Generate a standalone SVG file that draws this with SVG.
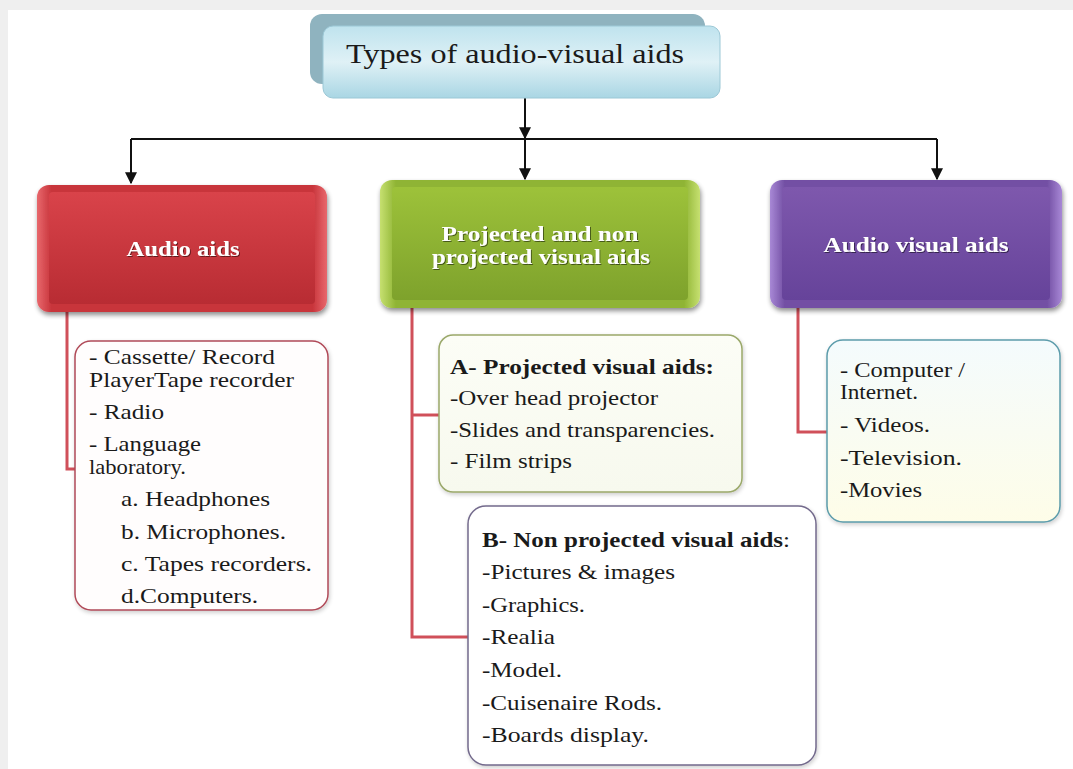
<svg xmlns="http://www.w3.org/2000/svg" width="1073" height="769" viewBox="0 0 1073 769">
<style>
.lst{font-family:"Liberation Serif","Times New Roman",serif;font-size:21px;fill:#1a1a1a}
.bld{font-weight:bold}
.lbl{font-family:"Liberation Serif","Times New Roman",serif;font-size:21px;font-weight:bold;fill:#ffffff;text-anchor:middle}
.ttl{font-family:"Liberation Serif","Times New Roman",serif;font-size:27px;fill:#1a1a1a}
.blk{stroke:#111;stroke-width:2;fill:none}
.red{stroke:#d0505a;stroke-width:3;fill:none}
</style>
<defs>
<filter id="sh" x="-10%" y="-10%" width="120%" height="130%">
<feGaussianBlur in="SourceAlpha" stdDeviation="2.5"/>
<feOffset dx="1" dy="3" result="b"/>
<feComponentTransfer><feFuncA type="linear" slope="0.45"/></feComponentTransfer>
<feMerge><feMergeNode/><feMergeNode in="SourceGraphic"/></feMerge>
</filter>
<filter id="sh2" x="-10%" y="-10%" width="120%" height="120%">
<feGaussianBlur in="SourceAlpha" stdDeviation="2"/>
<feOffset dx="1" dy="2" result="b"/>
<feComponentTransfer><feFuncA type="linear" slope="0.2"/></feComponentTransfer>
<feMerge><feMergeNode/><feMergeNode in="SourceGraphic"/></feMerge>
</filter>
<filter id="ts"><feDropShadow dx="1" dy="1" stdDeviation="0.6" flood-color="#000" flood-opacity="0.5"/></filter>
<linearGradient id="gT" x1="0" y1="0" x2="0" y2="1"><stop offset="0" stop-color="#bfe3ee"/><stop offset="0.5" stop-color="#dff1f6"/><stop offset="1" stop-color="#a9d6e4"/></linearGradient>
<linearGradient id="gR" x1="0" y1="0" x2="0" y2="1"><stop offset="0" stop-color="#d9434a"/><stop offset="1" stop-color="#b82c33"/></linearGradient>
<linearGradient id="gRe" x1="0" y1="0" x2="1" y2="0"><stop offset="0" stop-color="#e8686d"/><stop offset="0.05" stop-color="#c8343b"/><stop offset="0.95" stop-color="#c8343b"/><stop offset="1" stop-color="#e8686d"/></linearGradient>
<linearGradient id="gG" x1="0" y1="0" x2="0" y2="1"><stop offset="0" stop-color="#9dc23a"/><stop offset="1" stop-color="#7ea22c"/></linearGradient>
<linearGradient id="gGe" x1="0" y1="0" x2="1" y2="0"><stop offset="0" stop-color="#c6e070"/><stop offset="0.05" stop-color="#8fb434"/><stop offset="0.95" stop-color="#8fb434"/><stop offset="1" stop-color="#c6e070"/></linearGradient>
<linearGradient id="gP" x1="0" y1="0" x2="0" y2="1"><stop offset="0" stop-color="#7e58ad"/><stop offset="1" stop-color="#66439a"/></linearGradient>
<linearGradient id="gPe" x1="0" y1="0" x2="1" y2="0"><stop offset="0" stop-color="#a888d6"/><stop offset="0.05" stop-color="#7350a4"/><stop offset="0.95" stop-color="#7350a4"/><stop offset="1" stop-color="#a888d6"/></linearGradient>
<linearGradient id="gC" x1="0" y1="0" x2="0" y2="1"><stop offset="0" stop-color="#f4fbfd"/><stop offset="1" stop-color="#fefde8"/></linearGradient>
<linearGradient id="gA" x1="0" y1="0" x2="0" y2="1"><stop offset="0" stop-color="#fcfdf6"/><stop offset="1" stop-color="#f7f9ee"/></linearGradient>
<marker id="ah" viewBox="0 0 10 10" refX="9" refY="5" markerWidth="6" markerHeight="6" markerUnits="strokeWidth" orient="auto"><path d="M0,0 L10,5 L0,10 z" fill="#111"/></marker>
</defs>
<rect x="0" y="0" width="1073" height="769" fill="#efefef"/>
<rect x="8" y="10" width="1065" height="759" fill="#ffffff"/>

<g id="connectors">
<line class="blk" x1="525" y1="98" x2="525" y2="138" marker-end="url(#ah)"/>
<path class="blk" d="M131,139 H937"/>
<line class="blk" x1="525" y1="139" x2="525" y2="179" marker-end="url(#ah)"/>
<line class="blk" x1="131" y1="139" x2="131" y2="183" marker-end="url(#ah)"/>
<line class="blk" x1="937" y1="139" x2="937" y2="179" marker-end="url(#ah)"/>
<path class="red" d="M67,312 V469 H76"/>
<path class="red" d="M412,308 V637 H469"/>
<path class="red" d="M412,415 H439"/>
<path class="red" d="M798,308 V432 H827"/>
</g>

<g id="title">
<rect x="310" y="14" width="395" height="70" rx="12" fill="#8fb3bf"/>
<rect x="323" y="26" width="397" height="72" rx="10" fill="url(#gT)" stroke="#9cc8d6" stroke-width="1"/>
<text class="ttl" x="346" y="63" textLength="338" lengthAdjust="spacingAndGlyphs">Types of audio-visual aids</text>
</g>

<g id="audio-aids">
<rect x="37" y="185" width="290" height="127" rx="12" fill="url(#gRe)" filter="url(#sh)"/>
<rect x="49" y="192" width="266" height="112" rx="4" fill="url(#gR)"/>
<text class="lbl" x="183" y="256" filter="url(#ts)" textLength="113" lengthAdjust="spacingAndGlyphs">Audio aids</text>
</g>

<g id="visual-aids">
<rect x="380" y="180" width="320" height="128" rx="12" fill="url(#gGe)" filter="url(#sh)"/>
<rect x="392" y="187" width="296" height="113" rx="4" fill="url(#gG)"/>
<text class="lbl" x="540" y="241" filter="url(#ts)" textLength="197" lengthAdjust="spacingAndGlyphs">Projected and non</text>
<text class="lbl" x="541" y="264" filter="url(#ts)" textLength="218" lengthAdjust="spacingAndGlyphs">projected visual aids</text>
</g>

<g id="audio-visual-aids">
<rect x="770" y="180" width="292" height="128" rx="12" fill="url(#gPe)" filter="url(#sh)"/>
<rect x="782" y="187" width="268" height="113" rx="4" fill="url(#gP)"/>
<text class="lbl" x="916" y="252" filter="url(#ts)" textLength="185" lengthAdjust="spacingAndGlyphs">Audio visual aids</text>
</g>

<g id="audio-list">
<rect x="75" y="341" width="253" height="269" rx="16" fill="#fffdfd" stroke="#b04a58" stroke-width="1.5" filter="url(#sh2)"/>
<text class="lst" x="89" y="364" textLength="186" lengthAdjust="spacingAndGlyphs">- Cassette/ Record</text>
<text class="lst" x="89" y="387" textLength="205" lengthAdjust="spacingAndGlyphs">PlayerTape recorder</text>
<text class="lst" x="89" y="419" textLength="75" lengthAdjust="spacingAndGlyphs">- Radio</text>
<text class="lst" x="89" y="451" textLength="112" lengthAdjust="spacingAndGlyphs">- Language</text>
<text class="lst" x="89" y="474" textLength="97" lengthAdjust="spacingAndGlyphs">laboratory.</text>
<text class="lst" x="121" y="506" textLength="149" lengthAdjust="spacingAndGlyphs">a. Headphones</text>
<text class="lst" x="121" y="539" textLength="165" lengthAdjust="spacingAndGlyphs">b. Microphones.</text>
<text class="lst" x="121" y="571" textLength="191" lengthAdjust="spacingAndGlyphs">c. Tapes recorders.</text>
<text class="lst" x="121" y="603" textLength="137" lengthAdjust="spacingAndGlyphs">d.Computers.</text>
</g>

<g id="projected-list">
<rect x="439" y="335" width="303" height="157" rx="14" fill="url(#gA)" stroke="#9aa86a" stroke-width="1.5" filter="url(#sh2)"/>
<text class="lst bld" x="450" y="374" textLength="264" lengthAdjust="spacingAndGlyphs">A- Projected visual aids:</text>
<text class="lst" x="450" y="405" textLength="208" lengthAdjust="spacingAndGlyphs">-Over head projector</text>
<text class="lst" x="450" y="437" textLength="265" lengthAdjust="spacingAndGlyphs">-Slides and transparencies.</text>
<text class="lst" x="450" y="468" textLength="122" lengthAdjust="spacingAndGlyphs">- Film strips</text>
</g>

<g id="non-projected-list">
<rect x="468" y="506" width="348" height="259" rx="18" fill="#ffffff" stroke="#736a8c" stroke-width="1.5" filter="url(#sh2)"/>
<text class="lst" x="482" y="547" textLength="308" lengthAdjust="spacingAndGlyphs"><tspan class="bld">B- Non projected visual aids</tspan>:</text>
<text class="lst" x="482" y="579" textLength="193" lengthAdjust="spacingAndGlyphs">-Pictures &amp; images</text>
<text class="lst" x="482" y="612" textLength="103" lengthAdjust="spacingAndGlyphs">-Graphics.</text>
<text class="lst" x="482" y="644" textLength="73" lengthAdjust="spacingAndGlyphs">-Realia</text>
<text class="lst" x="482" y="677" textLength="80" lengthAdjust="spacingAndGlyphs">-Model.</text>
<text class="lst" x="482" y="710" textLength="180" lengthAdjust="spacingAndGlyphs">-Cuisenaire Rods.</text>
<text class="lst" x="482" y="742" textLength="167" lengthAdjust="spacingAndGlyphs">-Boards display.</text>
</g>

<g id="av-list">
<rect x="827" y="340" width="233" height="182" rx="16" fill="url(#gC)" stroke="#5c9cab" stroke-width="1.5" filter="url(#sh2)"/>
<text class="lst" x="840" y="377" textLength="125" lengthAdjust="spacingAndGlyphs">- Computer /</text>
<text class="lst" x="840" y="399" textLength="78" lengthAdjust="spacingAndGlyphs">Internet.</text>
<text class="lst" x="840" y="432" textLength="90" lengthAdjust="spacingAndGlyphs">- Videos.</text>
<text class="lst" x="840" y="465" textLength="122" lengthAdjust="spacingAndGlyphs">-Television.</text>
<text class="lst" x="840" y="497" textLength="82" lengthAdjust="spacingAndGlyphs">-Movies</text>
</g>
</svg>
